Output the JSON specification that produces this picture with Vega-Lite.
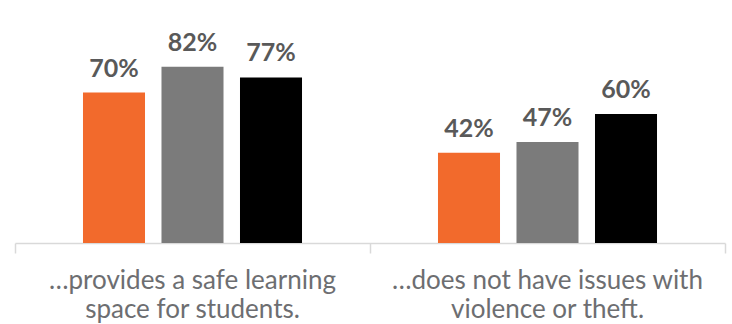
{
  "$schema": "https://vega.github.io/schema/vega-lite/v6.json",
  "width": 710,
  "height": 215,
  "autosize": {"type": "none"},
  "padding": {"left": 15, "top": 28, "right": 7, "bottom": 81},
  "background": "white",
  "config": {"view": {"stroke": null}, "font": "Lato"},
  "data": {
    "values": [
      {"statement": "safe", "series": "A", "value": 0.70},
      {"statement": "safe", "series": "B", "value": 0.82},
      {"statement": "safe", "series": "C", "value": 0.77},
      {"statement": "violence", "series": "A", "value": 0.42},
      {"statement": "violence", "series": "B", "value": 0.47},
      {"statement": "violence", "series": "C", "value": 0.60}
    ]
  },
  "resolve": {"axis": {"x": "independent"}},
  "layer": [
    {
      "mark": {"type": "bar"},
      "encoding": {
        "x": {
          "field": "statement",
          "type": "nominal",
          "sort": ["safe", "violence"],
          "scale": {"paddingInner": 0, "paddingOuter": 0},
          "axis": {
            "orient": "bottom",
            "title": null,
            "labelAngle": 0,
            "labelExpr": "datum.value == 'safe' ? ['…provides a safe learning', 'space for students.'] : ['…does not have issues with', 'violence or theft.']",
            "labelFont": "Lato",
            "labelFontSize": 26,
            "labelColor": "#6d6e71",
            "labelLineHeight": 29,
            "labelPadding": 24,
            "labelLimit": 500,
            "domain": false,
            "ticks": false
          }
        },
        "xOffset": {
          "field": "series",
          "type": "nominal",
          "scale": {"paddingInner": 0.21, "paddingOuter": 0.866}
        },
        "y": {
          "field": "value",
          "type": "quantitative",
          "scale": {"domain": [0, 1]},
          "axis": null
        },
        "color": {
          "field": "series",
          "type": "nominal",
          "scale": {"domain": ["A", "B", "C"], "range": ["#f26a2c", "#7b7b7b", "#000000"]},
          "legend": null
        }
      }
    },
    {
      "mark": {"type": "text", "baseline": "alphabetic", "dy": -16, "font": "Lato", "fontWeight": "bold", "fontSize": 25, "color": "#595959"},
      "encoding": {
        "x": {
          "field": "statement",
          "type": "nominal",
          "sort": ["safe", "violence"],
          "axis": {
            "orient": "bottom",
            "title": null,
            "labels": false,
            "tickBand": "extent",
            "domainColor": "#d9d9d9",
            "domainWidth": 1.5,
            "tickColor": "#d9d9d9",
            "tickWidth": 1.5,
            "tickSize": 10
          }
        },
        "xOffset": {"field": "series", "type": "nominal"},
        "y": {"field": "value", "type": "quantitative"},
        "text": {"field": "value", "type": "quantitative", "format": ".0%"}
      }
    }
  ]
}
